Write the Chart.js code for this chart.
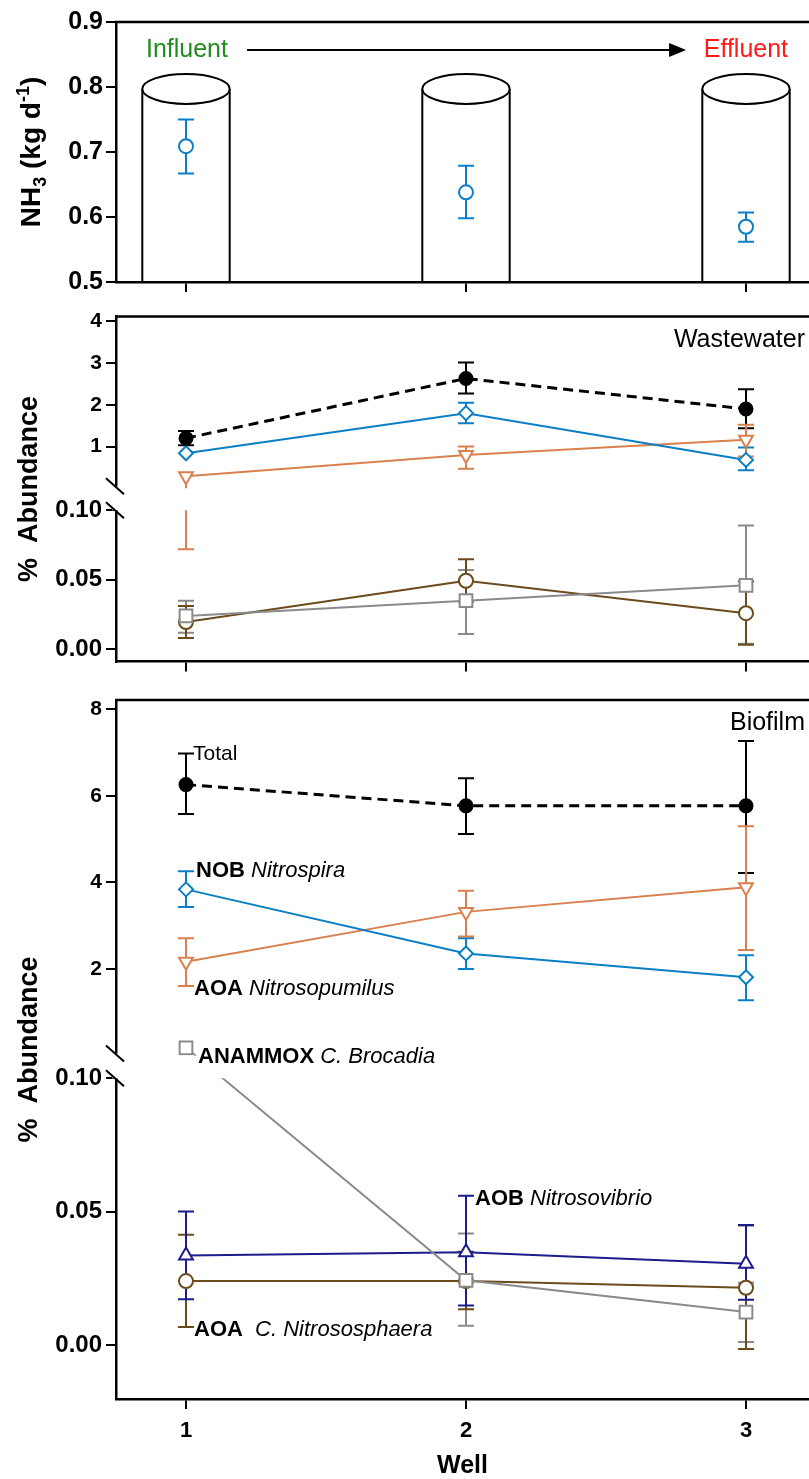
<!DOCTYPE html>
<html>
<head>
<meta charset="utf-8">
<script src="https://cdn.jsdelivr.net/npm/chart.js@4.4.0/dist/chart.umd.min.js"></script>
<style>
  html, body { margin: 0; padding: 0; background: #fff; overflow: hidden; }
  canvas { position: absolute; left: 0; }
</style>
</head>
<body>
<canvas id="nh3" width="809" height="300" style="top:0"></canvas>
<canvas id="ww" width="809" height="380" style="top:300px"></canvas>
<canvas id="bio" width="809" height="799" style="top:680px"></canvas>
<script>
const WELLS = [1, 2, 3];

// NH3 load along the wells (kg/d), mean and error
const NH3 = [0.709, 0.638, 0.585];
const NH3_UP = [0.041, 0.041, 0.022];
const NH3_DN = [0.042, 0.040, 0.023];
const NH3_TICKS = [0.5, 0.6, 0.7, 0.8, 0.9];

// wastewater, % abundance
const WW_TOTAL = [1.2, 2.63, 1.9];
const WW_TOTAL_UP = [0.17, 0.38, 0.47];
const WW_TOTAL_DN = [0.17, 0.36, 0.46];
const WW_NOB = [0.84, 1.8, 0.68];
const WW_NOB_UP = [0, 0.25, 0.30];
const WW_NOB_DN = [0, 0.24, 0.25];
const WW_AOA_NP = [0.29, 0.8, 1.16];
const WW_AOA_NP_UP = [0, 0.2, 0.36];
const WW_AOA_NP_DN = [0.218, 0.33, 0.4];
const WW_ANAMMOX = [0.024, 0.035, 0.046];
const WW_ANAMMOX_UP = [0.011, 0.022, 0.043];
const WW_ANAMMOX_DN = [0.012, 0.024, 0.042];
const WW_AOA_NS = [0.0196, 0.0493, 0.026];
const WW_AOA_NS_UP = [0.0115, 0.0155, 0.0227];
const WW_AOA_NS_DN = [0.0115, 0.015, 0.0227];
const WW_TICKS = [0, 0.05, 0.10, 1, 2, 3, 4];

// biofilm, % abundance
const BIO_TOTAL = [6.26, 5.77, 5.77];
const BIO_TOTAL_UP = [0.72, 0.64, 1.5];
const BIO_TOTAL_DN = [0.68, 0.65, 1.55];
const BIO_NOB = [3.84, 2.36, 1.81];
const BIO_NOB_UP = [0.42, 0.35, 0.51];
const BIO_NOB_DN = [0.41, 0.36, 0.53];
const BIO_AOA_NP = [2.17, 3.32, 3.89];
const BIO_AOA_NP_UP = [0.54, 0.49, 1.41];
const BIO_AOA_NP_DN = [0.56, 0.57, 1.45];
const BIO_ANAMMOX = [0.18, 0.0243, 0.0124];
const BIO_ANAMMOX_UP = [0, 0.0175, 0.011];
const BIO_ANAMMOX_DN = [0, 0.017, 0.0112];
const BIO_AOA_NS = [0.024, 0.024, 0.0215];
const BIO_AOA_NS_UP = [0.0174, 0.011, 0.0233];
const BIO_AOA_NS_DN = [0.0172, 0.0106, 0.023];
const BIO_AOB = [0.0336, 0.0348, 0.0305];
const BIO_AOB_UP = [0.0165, 0.0212, 0.0145];
const BIO_AOB_DN = [0.0164, 0.02, 0.0135];
const BIO_TICKS = [0, 0.05, 0.10, 2, 4, 6, 8];

const FONT = "'Liberation Sans', Arial, sans-serif";
Chart.defaults.font.family = FONT;
Chart.defaults.color = '#000';

const STYLE = {
  nh3:     { color: '#0a7fc4', shape: 'circle', r: 7 },
  total:   { color: '#000000', shape: 'circle', r: 6.5, fill: '#000', dash: [10, 6], width: 3 },
  nob:     { color: '#0a7fc4', shape: 'rectRot', r: 7 },
  aoaNp:   { color: '#d9804f', shape: 'triangle', r: 8, rot: 180 },
  anammox: { color: '#8a8a8a', shape: 'rect', r: 9 },
  aoaNs:   { color: '#6b4a1c', shape: 'circle', r: 7 },
  aob:     { color: '#1c1c8c', shape: 'triangle', r: 8 },
};

function series(key, vals, up, dn, noLine) {
  const s = STYLE[key];
  return {
    label: key,
    data: WELLS.map((w, i) => ({ x: w, y: vals[i] })),
    errUp: up, errDn: dn,
    showLine: !noLine,
    borderColor: s.color,
    borderWidth: s.width || 2,
    borderDash: s.dash || [],
    pointStyle: s.shape,
    pointRadius: s.r,
    pointRotation: s.rot || 0,
    pointBackgroundColor: s.fill || '#fff',
    pointBorderColor: s.color,
    pointBorderWidth: 2,
    tension: 0,
  };
}

// y scale with a break: lower segment [min, brkLow], upper segment [brkHigh, max]
class BrokenScale extends Chart.LinearScale {
  gap() {
    const o = this.options, h = this.bottom - this.top;
    return { hi: this.top + o.highFrac * h, lo: this.bottom - o.lowFrac * h };
  }
  getPixelForValue(v) {
    const o = this.options, g = this.gap();
    if (v <= o.brkLow) return this.bottom - (v - this.min) / (o.brkLow - this.min) * (this.bottom - g.lo);
    return this.top + (this.max - v) / (this.max - o.brkHigh) * (g.hi - this.top);
  }
  getValueForPixel(p) {
    const o = this.options, g = this.gap();
    if (p >= g.lo) return this.min + (this.bottom - p) / (this.bottom - g.lo) * (o.brkLow - this.min);
    return this.max - (p - this.top) / (g.hi - this.top) * (this.max - o.brkHigh);
  }
}
BrokenScale.id = 'broken';
BrokenScale.defaults = {};
Chart.register(BrokenScale);

function clipOutGap(chart) {
  const y = chart.scales.y;
  if (!(y instanceof BrokenScale)) return;
  const g = y.gap(), ctx = chart.ctx;
  ctx.beginPath();
  ctx.rect(0, 0, chart.width, g.hi);
  ctx.rect(0, g.lo, chart.width, chart.height - g.lo);
  ctx.clip();
}

const gapClip = {
  id: 'gapClip',
  beforeDatasetDraw(chart) { chart.ctx.save(); clipOutGap(chart); },
  afterDatasetDraw(chart) { chart.ctx.restore(); },
};

const CAP = 8;
const errorBars = {
  id: 'errorBars',
  beforeDatasetsDraw(chart) {
    const ctx = chart.ctx, ys = chart.scales.y;
    ctx.save();
    clipOutGap(chart);
    ctx.lineWidth = 2;
    chart.data.datasets.forEach((ds, i) => {
      if (!ds.errUp) return;
      ctx.strokeStyle = ds.borderColor;
      chart.getDatasetMeta(i).data.forEach((p, j) => {
        const v = ds.data[j].y;
        [[ds.errUp[j], 1], [ds.errDn[j], -1]].forEach(([e, s]) => {
          if (!e) return;
          const ye = ys.getPixelForValue(v + s * e);
          ctx.beginPath();
          ctx.moveTo(p.x, p.y); ctx.lineTo(p.x, ye);
          ctx.moveTo(p.x - CAP, ye); ctx.lineTo(p.x + CAP, ye);
          ctx.stroke();
        });
      });
    });
    ctx.restore();
  }
};

// top border of each panel, break marks, rotated y title, corner tag
const frame = {
  id: 'frame',
  afterDraw(chart, args, opts) {
    const ctx = chart.ctx, a = chart.chartArea;
    ctx.save();
    ctx.strokeStyle = '#000';
    ctx.lineWidth = 2.5;
    ctx.beginPath();
    ctx.moveTo(a.left - 1, a.top); ctx.lineTo(a.right, a.top);
    ctx.stroke();

    const y = chart.scales.y;
    if (y instanceof BrokenScale) {
      const g = y.gap();
      const y1 = g.hi - 2, y2 = g.lo;
      ctx.fillStyle = '#fff';
      ctx.fillRect(a.left - 4, y1, 8, y2 - y1);
      ctx.lineWidth = 2;
      [y1, y2].forEach(yy => {
        ctx.beginPath();
        ctx.moveTo(a.left - 10, yy - 8); ctx.lineTo(a.left + 8, yy + 8);
        ctx.stroke();
      });
    }

    // y title
    ctx.fillStyle = '#000';
    ctx.translate(opts.titleX, (a.top + a.bottom) / 2 + (opts.titleShift || 0));
    ctx.rotate(-Math.PI / 2);
    ctx.textBaseline = 'alphabetic';
    const parts = opts.title;
    const widths = parts.map(p => { ctx.font = 'bold ' + p[1] + 'px ' + FONT; return ctx.measureText(p[0]).width; });
    let x = -widths.reduce((s, w) => s + w, 0) / 2;
    parts.forEach((p, i) => {
      ctx.font = 'bold ' + p[1] + 'px ' + FONT;
      ctx.fillText(p[0], x, p[2] || 0);
      x += widths[i];
    });
    ctx.setTransform(1, 0, 0, 1, 0, 0);

    if (opts.tag) {
      ctx.font = '25px ' + FONT;
      ctx.textAlign = 'right';
      ctx.textBaseline = 'middle';
      ctx.fillText(opts.tag, a.right - 4, a.top + opts.tagDy);
    }
    ctx.restore();
  }
};

// NH3 panel: wells drawn as cylinders, flow arrow
const CYL = { half: 0.156, top: 0.797, ry: 0.023 };
const FLOW = { y: 0.857, inX: 0.857, from: 1.218, to: 2.786, outX: 2.849 };
const wellsArt = {
  id: 'wellsArt',
  beforeDatasetsDraw(chart) {
    const ctx = chart.ctx, xs = chart.scales.x, ys = chart.scales.y, a = chart.chartArea;
    ctx.save();
    ctx.strokeStyle = '#000';
    ctx.lineWidth = 2;
    WELLS.forEach(w => {
      const cx = xs.getPixelForValue(w);
      const hw = xs.getPixelForValue(w + CYL.half) - cx;
      const ty = ys.getPixelForValue(CYL.top);
      const ry = ys.getPixelForValue(CYL.top - CYL.ry) - ty;
      ctx.beginPath();
      ctx.moveTo(cx - hw, a.bottom); ctx.lineTo(cx - hw, ty);
      ctx.moveTo(cx + hw, a.bottom); ctx.lineTo(cx + hw, ty);
      ctx.stroke();
      ctx.beginPath();
      ctx.ellipse(cx, ty, hw, ry, 0, 0, Math.PI * 2);
      ctx.fillStyle = '#fff';
      ctx.fill();
      ctx.stroke();
    });
    const fy = ys.getPixelForValue(FLOW.y);
    const x0 = xs.getPixelForValue(FLOW.from), x1 = xs.getPixelForValue(FLOW.to);
    ctx.lineWidth = 2;
    ctx.beginPath();
    ctx.moveTo(x0, fy); ctx.lineTo(x1 - 14, fy);
    ctx.stroke();
    ctx.fillStyle = '#000';
    ctx.beginPath();
    ctx.moveTo(x1, fy); ctx.lineTo(x1 - 17, fy - 7); ctx.lineTo(x1 - 17, fy + 7);
    ctx.closePath();
    ctx.fill();
    ctx.font = '25px ' + FONT;
    ctx.textBaseline = 'middle';
    ctx.fillStyle = '#1e8c1e';
    ctx.fillText('Influent', xs.getPixelForValue(FLOW.inX), fy);
    ctx.fillStyle = '#ff1a1a';
    ctx.fillText('Effluent', xs.getPixelForValue(FLOW.outX), fy);
    ctx.restore();
  }
};

// series names in the biofilm panel, anchored to a point of their series
const BIO_NOTES = [
  { ds: 0, i: 0, dx: 7, dy: -30, size: 21, text: [['Total', '']] },
  { ds: 1, i: 0, dx: 10, dy: -18, size: 22, text: [['NOB ', 'bold '], ['Nitrospira', 'italic ']] },
  { ds: 2, i: 0, dx: 8, dy: 27, size: 22, text: [['AOA ', 'bold '], ['Nitrosopumilus', 'italic ']] },
  { ds: 3, i: 0, dx: 12, dy: 9, size: 22, text: [['ANAMMOX ', 'bold '], ['C. Brocadia', 'italic ']] },
  { ds: 5, i: 1, dx: 9, dy: -53, size: 22, text: [['AOB ', 'bold '], ['Nitrosovibrio', 'italic ']] },
  { ds: 4, i: 0, dx: 8, dy: 49, size: 22, text: [['AOA  ', 'bold '], ['C. Nitrososphaera', 'italic ']] },
];
const notes = {
  id: 'notes',
  afterDatasetsDraw(chart) {
    const ctx = chart.ctx;
    ctx.save();
    ctx.fillStyle = '#000';
    ctx.textBaseline = 'middle';
    BIO_NOTES.forEach(n => {
      const p = chart.getDatasetMeta(n.ds).data[n.i];
      let x = p.x + n.dx;
      n.text.forEach(([t, f]) => {
        ctx.font = f + n.size + 'px ' + FONT;
        ctx.fillText(t, x, p.y + n.dy);
        x += ctx.measureText(t).width;
      });
    });
    ctx.restore();
  }
};

const X_MIN = 0.75, X_MAX = 3.225;
function xScale(labels, height) {
  return {
    type: 'linear', min: X_MIN, max: X_MAX, bounds: 'data',
    afterBuildTicks: s => { s.ticks = WELLS.map(v => ({ value: v })); },
    afterFit: s => { s.height = height; },
    grid: { display: true, drawOnChartArea: false, drawTicks: true, tickLength: 10, color: '#000', lineWidth: 2 },
    border: { display: true, color: '#000', width: 2.5 },
    ticks: { autoSkip: false, maxRotation: 0, padding: 9, font: { size: 22, weight: 'bold' },
             callback: v => labels ? String(v) : '' },
    title: { display: labels, text: 'Well', font: { size: 25, weight: 'bold', lineHeight: 1 }, padding: { top: 0, bottom: 0 } },
  };
}
function yCommon(tickVals) {
  return {
    afterBuildTicks: s => { s.ticks = tickVals.map(v => ({ value: v })); },
    afterFit: s => { s.width = 116; },
    grid: { display: true, drawOnChartArea: false, drawTicks: true, tickLength: 10, color: '#000', lineWidth: 2 },
    border: { display: true, color: '#000', width: 2.5 },
  };
}
function brokenY(tickVals, lim) {
  return Object.assign(yCommon(tickVals), lim, {
    type: 'broken', bounds: 'data',
    ticks: { autoSkip: false, padding: 4,
             font: c => ({ size: c.tick && c.tick.value < 0.5 ? 24 : 21, weight: 'bold' }),
             callback: v => v < 0.5 ? v.toFixed(2) : String(v) },
  });
}
const base = (top) => ({
  responsive: false, animation: false,
  layout: { autoPadding: false, padding: { top: top, right: 0, bottom: 0, left: 0 } },
});

new Chart(document.getElementById('nh3'), {
  type: 'line',
  data: { datasets: [series('nh3', NH3, NH3_UP, NH3_DN, true)] },
  options: Object.assign(base(22), {
    plugins: { legend: { display: false }, tooltip: { enabled: false },
      frame: { titleX: 40, title: [['NH', 28], ['3', 18, 6], [' (kg d', 28], ['-1', 18, -11], [')', 28]] } },
    scales: {
      x: xScale(false, 16),
      y: Object.assign(yCommon(NH3_TICKS), { type: 'linear', min: 0.5, max: 0.9, bounds: 'data',
        ticks: { padding: 3, font: { size: 25, weight: 'bold' }, callback: v => v.toFixed(1) } }),
    },
  }),
  plugins: [wellsArt, errorBars, gapClip, frame],
});

new Chart(document.getElementById('ww'), {
  type: 'line',
  data: { datasets: [
    series('total', WW_TOTAL, WW_TOTAL_UP, WW_TOTAL_DN),
    series('nob', WW_NOB, WW_NOB_UP, WW_NOB_DN),
    series('aoaNp', WW_AOA_NP, WW_AOA_NP_UP, WW_AOA_NP_DN),
    series('anammox', WW_ANAMMOX, WW_ANAMMOX_UP, WW_ANAMMOX_DN),
    series('aoaNs', WW_AOA_NS, WW_AOA_NS_UP, WW_AOA_NS_DN),
  ] },
  options: Object.assign(base(16), {
    plugins: { legend: { display: false }, tooltip: { enabled: false },
      frame: { titleX: 37, title: [['%  Abundance', 27]], tag: 'Wastewater', tagDy: 24 } },
    scales: {
      x: xScale(false, 17),
      y: brokenY(WW_TICKS, { min: -0.0088, max: 4.112, brkLow: 0.10, brkHigh: 0, lowFrac: 0.4389, highFrac: 0.4977 }),
    },
  }),
  plugins: [errorBars, gapClip, frame],
});

new Chart(document.getElementById('bio'), {
  type: 'line',
  data: { datasets: [
    series('total', BIO_TOTAL, BIO_TOTAL_UP, BIO_TOTAL_DN),
    series('nob', BIO_NOB, BIO_NOB_UP, BIO_NOB_DN),
    series('aoaNp', BIO_AOA_NP, BIO_AOA_NP_UP, BIO_AOA_NP_DN),
    series('anammox', BIO_ANAMMOX, BIO_ANAMMOX_UP, BIO_ANAMMOX_DN),
    series('aoaNs', BIO_AOA_NS, BIO_AOA_NS_UP, BIO_AOA_NS_DN),
    series('aob', BIO_AOB, BIO_AOB_UP, BIO_AOB_DN),
  ] },
  options: Object.assign(base(20), {
    plugins: { legend: { display: false }, tooltip: { enabled: false },
      frame: { titleX: 37, title: [['%  Abundance', 27]], tag: 'Biofilm', tagDy: 23 } },
    scales: {
      x: xScale(true, 80),
      y: brokenY(BIO_TICKS, { min: -0.0202, max: 8.215, brkLow: 0.10, brkHigh: 0, lowFrac: 0.4588, highFrac: 0.5087 }),
    },
  }),
  plugins: [errorBars, gapClip, notes, frame],
});
</script>
</body>
</html>
